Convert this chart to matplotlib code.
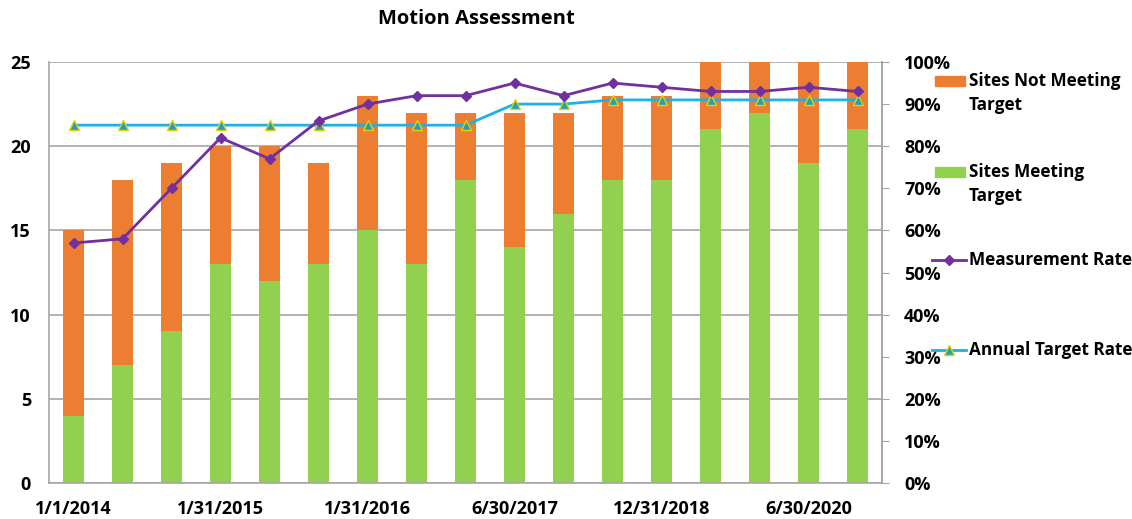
import matplotlib
matplotlib.use("Agg")
import matplotlib.pyplot as plt
from matplotlib.ticker import FuncFormatter, MultipleLocator
from matplotlib.lines import Line2D
from matplotlib.patches import Rectangle
import numpy as np

plt.rcParams['font.family'] = ['Open Sans', 'DejaVu Sans']
plt.rcParams['font.weight'] = 'bold'

categories = ["1/1/2014", "", "", "1/31/2015", "", "", "1/31/2016", "", "",
              "6/30/2017", "", "", "12/31/2018", "", "", "6/30/2020", ""]
sites_meeting = [4, 7, 9, 13, 12, 13, 15, 13, 18, 14, 16, 18, 18, 21, 22, 19, 21]
sites_total = [15, 18, 19, 20, 20, 19, 23, 22, 22, 22, 22, 23, 23, 26, 26, 26, 26]
sites_not_meeting = [t - m for t, m in zip(sites_total, sites_meeting)]
measurement_rate = [57, 58, 70, 82, 77, 86, 90, 92, 92, 95, 92, 95, 94, 93, 93, 94, 93]
annual_target = [85, 85, 85, 85, 85, 85, 85, 85, 85, 90, 90, 91, 91, 91, 91, 91, 91]
legend_labels = [["Sites Not Meeting", "Target"], ["Sites Meeting", "Target"],
                 ["Measurement Rate"], ["Annual Target Rate"]]

ORANGE = '#ED7D31'
GREEN = '#92D050'
PURPLE = '#7030A0'
CYAN = '#1FB0E6'
TRI_FACE = '#1FA0C0'
TRI_EDGE = '#E8D000'
GRID = '#A6A6A6'

W, H = 1132, 519
fig = plt.figure(figsize=(W / 100, H / 100), dpi=100)
ax = fig.add_axes([49 / W, 1 - 483 / H, (882 - 49) / W, (483 - 62) / H])
x = np.arange(len(categories))
w = 0.41
b1 = ax.bar(x, sites_meeting, w, color=GREEN, zorder=2)
b2 = ax.bar(x, sites_not_meeting, w, bottom=sites_meeting, color=ORANGE, zorder=2)
ax.set_ylim(0, 25)
ax.set_xlim(-0.5, len(categories) - 0.5)
ax.yaxis.set_major_locator(MultipleLocator(5))
ax.grid(axis='y', color=GRID, linewidth=1.2, zorder=0)
ax.set_axisbelow(True)
ax.set_xticks(x)
ax.set_xticklabels(categories, fontsize=13, fontweight='bold')
ax.tick_params(axis='x', length=0, pad=12)
ax.tick_params(axis='y', length=0, labelsize=13, pad=13)
ax.spines['top'].set_visible(False)
for s in ['left', 'bottom', 'right']:
    ax.spines[s].set_color(GRID)
    ax.spines[s].set_linewidth(1.2)

ax2 = ax.twinx()
ax2.plot(x, measurement_rate, color=PURPLE, lw=2, marker='D', ms=5.5,
         mfc=PURPLE, mec=PURPLE, zorder=4)
ax2.plot(x, annual_target, color=CYAN, lw=2, marker='^', ms=7,
         mfc=TRI_FACE, mec=TRI_EDGE, mew=1, zorder=3)
ax2.set_ylim(0, 100)
ax2.yaxis.set_major_locator(MultipleLocator(10))
ax2.yaxis.set_major_formatter(FuncFormatter(lambda v, p: f"{int(v)}%"))
ax2.tick_params(axis='y', direction='out', length=5, color=GRID, labelsize=13, pad=11)
for s in ['top', 'left', 'bottom']:
    ax2.spines[s].set_visible(False)
ax2.spines['right'].set_color(GRID)
ax2.spines['right'].set_linewidth(1.2)

fig.text(476 / W, 1 - 19 / H, 'Motion Assessment', ha='center', va='center',
         fontsize=14.5, fontweight='bold')

# manual legend (figure pixel layout)
def fx(px):
    return px / W

def fy(py):
    return 1 - py / H

entry_y = [81, 172, 260, 350]
for i, (yy, lines) in enumerate(zip(entry_y, legend_labels)):
    if i < 2:
        color = ORANGE if i == 0 else GREEN
        fig.patches.append(Rectangle((fx(935), fy(yy + 5)), fx(30), 10 / H,
                                     transform=fig.transFigure, color=color))
    else:
        if i == 2:
            ln = Line2D([fx(932), fx(966)], [fy(yy), fy(yy)], transform=fig.transFigure,
                        color=PURPLE, lw=2)
            mk = Line2D([fx(949)], [fy(yy)], transform=fig.transFigure, marker='D', ms=5.5,
                        mfc=PURPLE, mec=PURPLE, lw=0)
        else:
            ln = Line2D([fx(932), fx(966)], [fy(yy), fy(yy)], transform=fig.transFigure,
                        color=CYAN, lw=2)
            mk = Line2D([fx(949)], [fy(yy)], transform=fig.transFigure, marker='^', ms=7,
                        mfc=TRI_FACE, mec=TRI_EDGE, mew=1, lw=0)
        fig.lines.extend([ln, mk])
    for j, t in enumerate(lines):
        fig.text(fx(969), fy(yy + 24 * j), t, ha='left', va='center',
                 fontsize=12.3, fontweight='bold')

fig.savefig('out.png', dpi=100)
